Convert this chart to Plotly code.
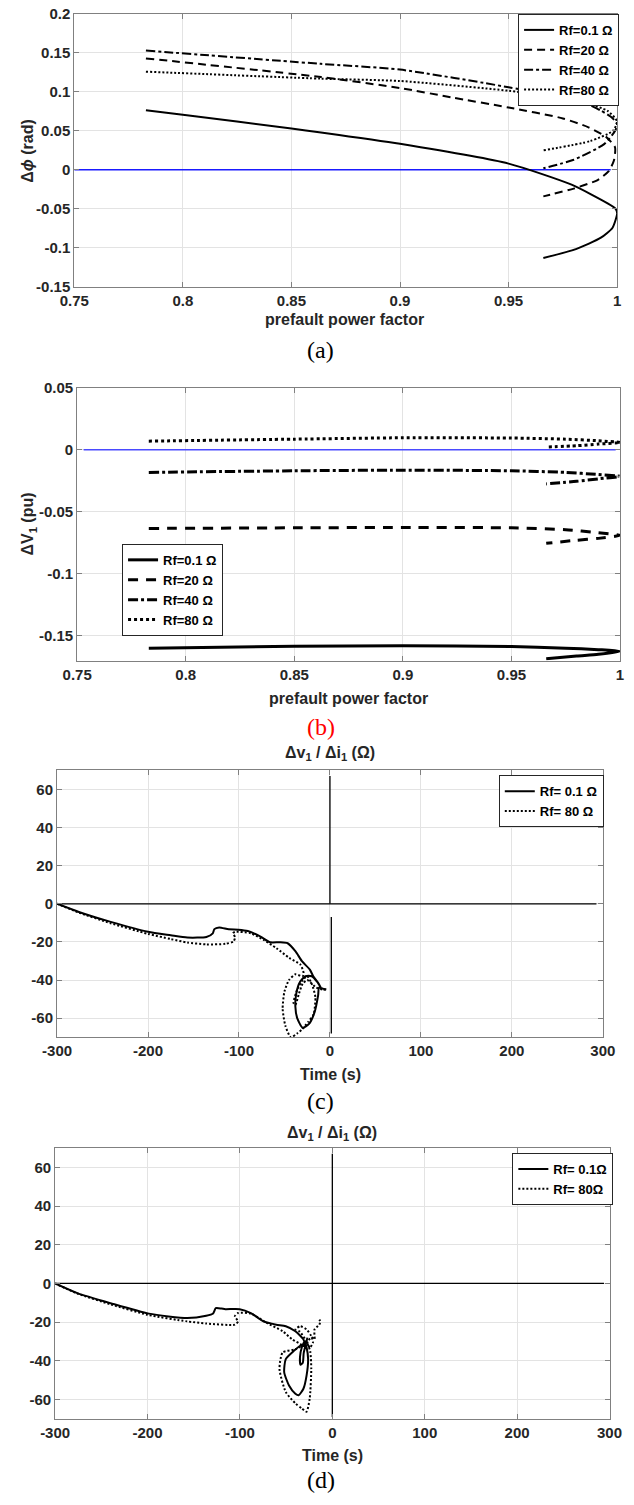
import plotly.graph_objects as go

# ---------------- data ----------------
# (a) phase change vs prefault power factor
A_PF_RF01 = [0.783, 0.80, 0.85, 0.8636, 0.90, 0.95, 0.979, 0.9956, 0.9993, 1.0, 0.9993, 0.9978, 0.9925, 0.981, 0.966]
A_DPHI_RF01 = [0.0765, 0.0707, 0.053, 0.048, 0.0334, 0.008, -0.019, -0.043, -0.050, -0.0555, -0.064, -0.0745, -0.087, -0.1016, -0.113]
A_PF_RF20 = [0.783, 0.8636, 0.90, 0.9237, 0.95, 0.975, 0.9868, 0.995, 0.999, 0.9985, 0.996, 0.991, 0.980, 0.966]
A_DPHI_RF20 = [0.143, 0.119, 0.105, 0.093, 0.080, 0.066, 0.0546, 0.042, 0.029, 0.012, -0.002, -0.013, -0.024, -0.034]
A_PF_RF40 = [0.783, 0.8636, 0.90, 0.95, 0.9828, 0.9925, 0.998, 1.0, 0.999, 0.994, 0.980, 0.966]
A_DPHI_RF40 = [0.153, 0.136, 0.1286, 0.106, 0.0884, 0.076, 0.066, 0.058, 0.050, 0.033, 0.013, 0.002]
A_PF_RF80 = [0.783, 0.8636, 0.90, 0.95, 0.975, 0.9876, 0.9956, 1.0, 0.998, 0.9876, 0.966]
A_DPHI_RF80 = [0.126, 0.117, 0.114, 0.1015, 0.092, 0.084, 0.0757, 0.062, 0.050, 0.037, 0.025]
A_REF_PF = [0.75, 0.997]
A_REF_Y = [0, 0]
A_XTICKS = [0.75, 0.8, 0.85, 0.9, 0.95, 1]
A_XTICKTEXT = ["0.75", "0.8", "0.85", "0.9", "0.95", "1"]
A_YTICKS = [-0.15, -0.1, -0.05, 0, 0.05, 0.1, 0.15, 0.2]
A_YTICKTEXT = ["-0.15", "-0.1", "-0.05", "0", "0.05", "0.1", "0.15", "0.2"]

# (b) voltage change vs prefault power factor
B_PF = [0.783, 0.85, 0.90, 0.95, 0.975, 0.99, 1.0, 0.99, 0.98, 0.966]
B_DV_RF01 = [-0.160, -0.1585, -0.158, -0.1587, -0.1600, -0.1612, -0.1625, -0.1650, -0.1663, -0.1685]
B_DV_RF20 = [-0.0635, -0.063, -0.0627, -0.063, -0.0645, -0.067, -0.069, -0.0715, -0.073, -0.0755]
B_DV_RF40 = [-0.0183, -0.017, -0.0165, -0.017, -0.0183, -0.020, -0.0215, -0.0235, -0.0255, -0.0276]
B_DV_RF80 = [0.0069, 0.0085, 0.0096, 0.0094, 0.0085, 0.0072, 0.0058, 0.0045, 0.0032, 0.0021]
B_REF_PF = [0.753, 0.998]
B_REF_Y = [0, 0]
B_YTICKS = [-0.15, -0.1, -0.05, 0, 0.05]
B_YTICKTEXT = ["-0.15", "-0.1", "-0.05", "0", "0.05"]

# (c) impedance trajectory
C_R_RF01 = [-300, -276, -241, -200, -175, -156.8, -135.8, -128.8, -127.1, -121.8, -111.3, -100.8, -90.3, -76.3, -65.8, -55.3, -46.5, -37.8, -30.8, -22.1, -18.5, -13.2, -10, -14, -20, -27, -33, -37, -38, -36, -30, -23, -17, -13, -12, -8, -4]
C_X_RF01 = [0, -4.3, -9.5, -14.7, -16.5, -17.7, -17.4, -15.5, -13.3, -12.4, -13.4, -13.6, -14.3, -17.2, -20.2, -20.2, -20.7, -25, -30.1, -34.5, -37.9, -41.3, -44, -41, -38, -38, -41, -47, -54, -60, -65, -63, -57, -48, -44, -44.5, -45]
C_R_RF80 = [-300, -276, -241, -200, -175, -156.8, -135.8, -114.8, -106, -104.3, -106.5, -104.3, -86.8, -72.8, -58.8, -44.7, -32.5, -29, -30, -38, -45, -50, -52, -49, -43, -36, -31, -24, -18, -16, -20, -25, -30, -36, -40, -38, -34, -30, -25, -15, -8, -4]
C_X_RF80 = [0, -4.6, -10.2, -15.8, -18.5, -20.3, -21.3, -21.0, -19.8, -17.5, -15.5, -14.7, -15.5, -19, -23.3, -28.4, -31.9, -36.2, -38, -37, -40, -46, -55, -64, -70, -68, -66, -62, -58, -49, -42, -38, -40, -45, -52, -53, -47, -42, -40, -44, -45, -45]
C_AXIS_R = [-300, 293, None, 0, 0, None, 1.5, 1.5]
C_AXIS_X = [0, 0, None, 67, 0, None, -7, -68]

# (d) impedance trajectory
D_R_RF01 = [-300, -276, -240, -198.6, -157, -136.5, -129, -127.9, -126.2, -120, -115.8, -100.3, -88.2, -74.5, -60.7, -50.4, -40, -31.3, -29.7, -34, -42, -50.4, -52.1, -46.9, -40, -36.5, -31.3, -27.9, -26.2, -27.9, -30, -33, -35, -34.5, -32, -31, -28, -27]
D_X_RF01 = [0, -5, -10.2, -15.6, -17.9, -16.7, -15.5, -14.5, -12.8, -13.0, -13.3, -13.3, -15.3, -19.6, -21.3, -22.1, -24.7, -28.9, -32.3, -32, -35, -39.1, -45.9, -52.7, -57, -57.8, -54.4, -47.6, -39.1, -33, -30, -33, -38, -42, -41, -36, -30, -28]
D_R_RF80 = [-300, -276, -240, -200, -157.2, -136.5, -105.5, -102, -105.5, -102, -88, -71, -53.8, -43.4, -33, -40, -53.8, -57.2, -50.4, -40, -33.1, -27.9, -24.5, -22.8, -24, -28, -35, -40, -34.8, -27.9, -22.8, -21, -24.5, -27, -22, -19.3, -19.3, -14.1, -13.1, -14.1]
D_X_RF80 = [0, -5.2, -10.8, -16.2, -19.6, -20.7, -21.3, -19.6, -17, -15.3, -15.6, -20.4, -24.7, -28.9, -32, -34, -35.7, -44.2, -56.1, -62, -64.6, -66.3, -59.5, -44.2, -35, -30, -25, -23.8, -22.1, -23.8, -27.2, -30.6, -33.2, -30, -28, -28.9, -23.8, -21.3, -19.6, -18.7]
D_AXIS_R = [-300, 294, None, 0, 0]
D_AXIS_X = [0, 0, None, 67, -69]

CD_XTICKS = [-300, -200, -100, 0, 100, 200, 300]
CD_XTICKTEXT = ["-300", "-200", "-100", "0", "100", "200", "300"]
CD_YTICKS = [-60, -40, -20, 0, 20, 40, 60]
CD_YTICKTEXT = ["-60", "-40", "-20", "0", "20", "40", "60"]

LEG_AB = ["Rf=0.1 Ω", "Rf=20 Ω", "Rf=40 Ω", "Rf=80 Ω"]
LEG_C = ["Rf= 0.1 Ω", "Rf= 80 Ω"]
LEG_D = ["Rf= 0.1Ω", "Rf= 80Ω"]

# ---------------- layout helpers ----------------
W, H = 634, 1505
def px(x):
    return x / W
def py(y):
    return 1 - y / H

SANS = "Liberation Sans, Arial, Helvetica, sans-serif"
SERIF = "Liberation Serif, Times New Roman, serif"
TXT = "#262626"
GRID = "#e3e3e3"
AXC = "#808080"

fig = go.Figure()

DASH = "8px,5px"
DASHDOT = "9px,3px,3px,3px"
DOT = "2px,2px"

def add(x, y, ax, name, dash, width, legend, show=True, color="black", shape="spline"):
    fig.add_trace(go.Scatter(
        x=x, y=y, mode="lines", name=name, xaxis="x" + ax, yaxis="y" + ax,
        line=dict(color=color, width=width, dash=dash, shape=shape, smoothing=0.6),
        showlegend=show, legend=legend, hoverinfo="skip"))

# (a)
add(A_REF_PF, A_REF_Y, "", "ref", "solid", 1.5, "legend", False, "#1a1aff", "linear")
add(A_PF_RF01, A_DPHI_RF01, "", LEG_AB[0], "solid", 2, "legend")
add(A_PF_RF20, A_DPHI_RF20, "", LEG_AB[1], DASH, 2, "legend")
add(A_PF_RF40, A_DPHI_RF40, "", LEG_AB[2], DASHDOT, 2, "legend")
add(A_PF_RF80, A_DPHI_RF80, "", LEG_AB[3], DOT, 2, "legend")
# (b)
add(B_REF_PF, B_REF_Y, "2", "ref", "solid", 1.5, "legend2", False, "#4a4aff", "linear")
add(B_PF, B_DV_RF01, "2", LEG_AB[0], "solid", 3, "legend2")
add(B_PF, B_DV_RF20, "2", LEG_AB[1], "10px,8px", 3, "legend2")
add(B_PF, B_DV_RF40, "2", LEG_AB[2], "10px,3px,3px,3px", 3, "legend2")
add(B_PF, B_DV_RF80, "2", LEG_AB[3], "3px,3px", 3, "legend2")
# (c)
add(C_AXIS_R, C_AXIS_X, "3", "axis", "solid", 1.3, "legend3", False, "black", "linear")
add(C_R_RF01, C_X_RF01, "3", LEG_C[0], "solid", 2, "legend3")
add(C_R_RF80, C_X_RF80, "3", LEG_C[1], DOT, 2, "legend3")
# (d)
add(D_AXIS_R, D_AXIS_X, "4", "axis", "solid", 1.3, "legend4", False, "black", "linear")
add(D_R_RF01, D_X_RF01, "4", LEG_D[0], "solid", 2, "legend4")
add(D_R_RF80, D_X_RF80, "4", LEG_D[1], DOT, 2, "legend4")

tickfont = dict(family=SANS, size=15, color=TXT, weight="bold")

def axis(domain, rng, tv, tt, anchor):
    return dict(domain=domain, range=rng, tickvals=tv, ticktext=tt, anchor=anchor,
                showgrid=True, gridcolor=GRID, gridwidth=1, zeroline=False,
                showline=True, linecolor=AXC, linewidth=1, mirror="ticks",
                ticks="inside", ticklen=5, tickcolor=AXC, tickfont=tickfont)

fig.update_layout(
    xaxis=axis([px(62), px(630)], [0.75, 1.0], A_XTICKS, A_XTICKTEXT, "y"),
    yaxis=axis([py(281), py(5)], [-0.15, 0.2], A_YTICKS, A_YTICKTEXT, "x"),
    xaxis2=axis([px(65), px(633)], [0.75, 1.0], A_XTICKS, A_XTICKTEXT, "y2"),
    yaxis2=axis([py(659), py(383)], [-0.17, 0.05], B_YTICKS, B_YTICKTEXT, "x2"),
    xaxis3=axis([px(44), px(615)], [-300, 300], CD_XTICKS, CD_XTICKTEXT, "y3"),
    yaxis3=axis([py(1040), py(770)], [-70, 70], CD_YTICKS, CD_YTICKTEXT, "x3"),
    xaxis4=axis([px(42), px(622)], [-300, 300], CD_XTICKS, CD_XTICKTEXT, "y4"),
    yaxis4=axis([py(1426), py(1152)], [-70, 70], CD_YTICKS, CD_YTICKTEXT, "x4"),
)

legfont = dict(family=SANS, size=13, color="black", weight="bold")
def leg(x, y, xa):
    return dict(x=x, y=y, xanchor=xa, yanchor="top", xref="paper", yref="paper",
                bgcolor="white", bordercolor=TXT, borderwidth=1, font=legfont,
                tracegroupgap=0, itemwidth=30, traceorder="normal")

fig.update_layout(
    legend=leg(px(632), py(5), "right"),
    legend2=leg(px(112), py(541), "left"),
    legend3=leg(px(616), py(775), "right"),
    legend4=leg(px(626), py(1157), "right"),
)

def ann(text, x, y, size=16, family=SANS, color=TXT, angle=0, bold=True):
    fig.add_annotation(text=text, x=px(x), y=py(y), xref="paper", yref="paper",
                       showarrow=False, textangle=angle, xanchor="center", yanchor="middle",
                       font=dict(family=family, size=size, color=color,
                                 weight="bold" if bold else "normal"))

ann("Δ<i>ϕ</i> (rad)", 13, 143, angle=-90)
ann("prefault power factor", 345, 314)
ann("(a)", 320, 345, size=24, family=SERIF, color="black", bold=False)
ann("ΔV<sub>1</sub> (pu)", 14, 521, angle=-90)
ann("prefault power factor", 349, 697)
ann("(b)", 320, 726, size=24, family=SERIF, color="red", bold=False)
ann("Δv<sub>1</sub> / Δi<sub>1</sub> (Ω)", 330, 753)
ann("Time (s)", 330, 1078)
ann("(c)", 320, 1104, size=24, family=SERIF, color="black", bold=False)
ann("Δv<sub>1</sub> / Δi<sub>1</sub> (Ω)", 332, 1137)
ann("Time (s)", 332, 1463)
ann("(d)", 320, 1488, size=24, family=SERIF, color="black", bold=False)

fig.update_layout(width=W, height=H, margin=dict(l=0, r=0, t=0, b=0),
                  paper_bgcolor="white", plot_bgcolor="white")

fig.write_html("out.html")
